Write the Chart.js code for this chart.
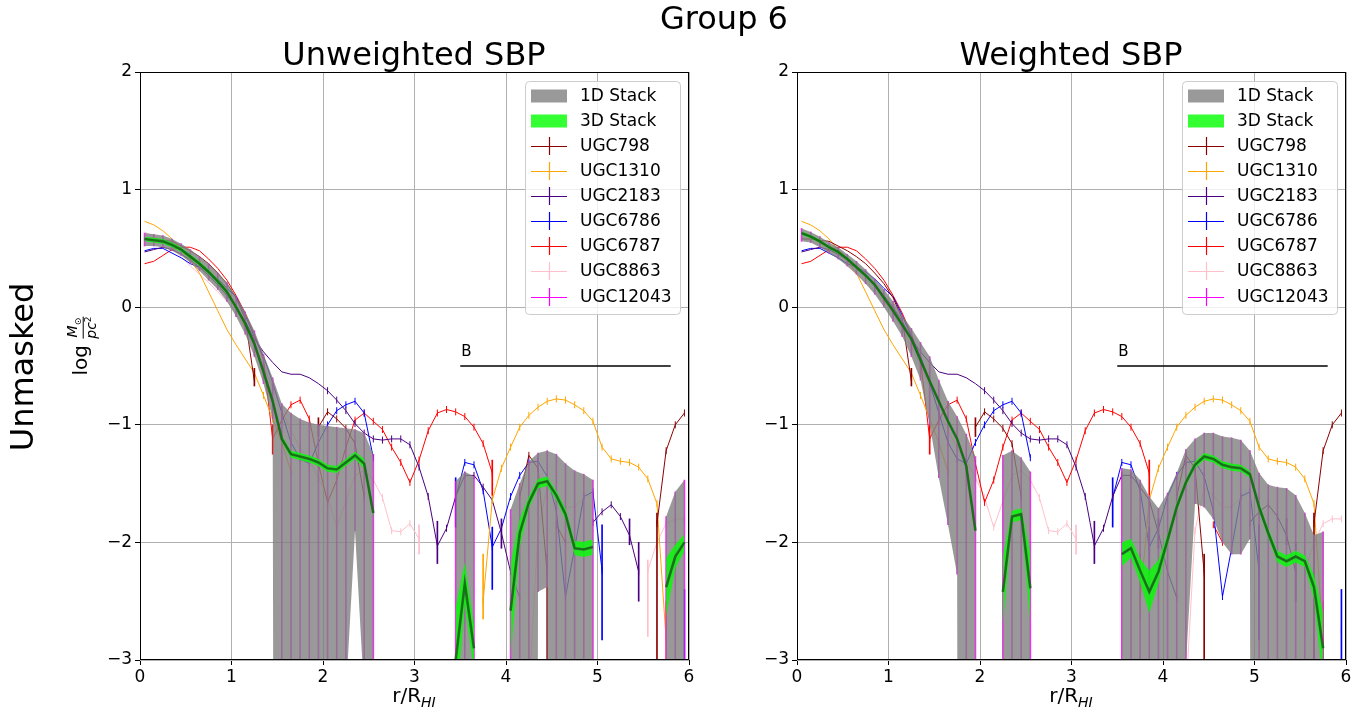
<!DOCTYPE html>
<html>
<head>
<meta charset="utf-8">
<script src="https://cdn.jsdelivr.net/npm/chart.js@4.4.0/dist/chart.umd.min.js"></script>
<style>
body { margin: 0; background: #fff; font-family: "DejaVu Sans", sans-serif; }
#wrap { position: relative; width: 1370px; height: 718px; overflow: hidden; }
canvas { position: absolute; top: 0; }
.t { position: absolute; white-space: nowrap; color: #000; line-height: 1; }
.c { text-align: center; }
.rot { position: absolute; white-space: nowrap; transform: translate(-50%, -50%) rotate(-90deg); }
.frac { display: inline-flex; flex-direction: column; align-items: center; vertical-align: middle; font-size: 14px; line-height: 1.05; }
.frac span:first-child { border-bottom: 1px solid #000; padding: 0 1px; }
</style>
</head>
<body>
<div id="wrap">
  <canvas id="c1" width="700" height="718" style="left:0"></canvas>
  <canvas id="c2" width="670" height="718" style="left:700px"></canvas>

  <div class="t c" style="left:574px;width:300px;top:2px;font-size:32px;">Group 6</div>
  <div class="t c" style="left:264px;width:300px;top:38px;font-size:32px;">Unweighted SBP</div>
  <div class="t c" style="left:921px;width:300px;top:38px;font-size:32px;">Weighted SBP</div>
  <div class="rot" style="left:22px;top:367px;font-size:32px;">Unmasked</div>
  <div class="rot" style="left:82px;top:346px;font-size:20px;">log <span class="frac"><span><i>M</i><sub style="font-size:9px">⊙</sub></span><span><i>pc</i><sup style="font-size:9px">2</sup></span></span></div>
  <div class="t c" style="left:314px;width:200px;top:685px;font-size:20px;">r/R<sub style="font-size:14px"><i>HI</i></sub></div>
  <div class="t c" style="left:971px;width:200px;top:685px;font-size:20px;">r/R<sub style="font-size:14px"><i>HI</i></sub></div>
</div>

<script>
const _ = null;
const D = -40; // lower edge of the band where it has no finite value

// radial bin centres, r/R_HI
const r = [
  0.05, 0.15, 0.25, 0.35, 0.45, 0.55, 0.65, 0.75, 0.85, 0.95,
  1.05, 1.15, 1.25, 1.35, 1.45, 1.55, 1.65, 1.75, 1.85, 1.95,
  2.05, 2.15, 2.25, 2.35, 2.45, 2.55, 2.65, 2.75, 2.85, 2.95,
  3.05, 3.15, 3.25, 3.35, 3.45, 3.55, 3.65, 3.75, 3.85, 3.95,
  4.05, 4.15, 4.25, 4.35, 4.45, 4.55, 4.65, 4.75, 4.85, 4.95,
  5.05, 5.15, 5.25, 5.35, 5.45, 5.55, 5.65, 5.75, 5.85, 5.95];

// individual galaxy profiles (same in both panels)
const ugc798 = [
  0.58, 0.58, 0.57, 0.56, 0.52, 0.48, 0.43, 0.37, 0.29, 0.20,
  0.08, -0.10, -0.63, _, _, _, _, _, _, -1.02,
  -0.89, -0.95, -1.03, -1.16, -1.61, _, _, _, _, _,
  _, _, _, _, _, _, _, _, _, _,
  _, -1.61, -1.26, -1.37, -2.26, _, _, _, _, _,
  _, _, _, _, _, _, -1.84, -1.22, -1.00, -0.90];
const ugc1310 = [
  0.73, 0.70, 0.65, 0.58, 0.49, 0.40, 0.29, 0.13, -0.03, -0.19,
  -0.32, -0.44, -0.56, -0.75, -0.95, -1.15, -1.40, _, _, _,
  _, _, _, _, _, _, _, _, _, _,
  _, _, _, _, _, _, _, -2.50, -1.64, -1.37,
  -1.19, -1.02, -0.92, -0.85, -0.80, -0.78, -0.79, -0.83, -0.88, -0.97,
  -1.19, -1.29, -1.31, -1.32, -1.36, -1.46, -1.67, -2.83, _, _];
const ugc2183 = [
  0.47, 0.49, 0.51, 0.49, 0.45, 0.40, 0.34, 0.27, 0.19, 0.10,
  0.00, -0.12, -0.27, -0.38, -0.47, -0.55, -0.57, -0.57, -0.60, -0.65,
  -0.71, -0.79, -0.88, -0.99, -1.07, -1.12, -1.13, -1.12, -1.12, -1.17,
  -1.36, -1.61, -2.03, -1.88, -1.61, -1.43, -1.43, -1.53, -1.64, -1.92,
  -2.25, -2.47, _, _, _, _, _, _, _, -1.83,
  -1.74, -1.68, -1.78, -1.94, -2.25, _, _, _, _, _];
const ugc6786 = [
  0.48, 0.50, 0.50, 0.46, 0.42, 0.37, 0.34, 0.30, 0.24, 0.16,
  0.09, -0.07, -0.25, -0.42, -0.64, -0.90, -1.15, -1.29, -1.33, -1.15,
  -1.00, -0.88, -0.83, -0.80, -0.90, -1.28, _, _, _, _,
  _, _, _, _, -1.62, -1.32, -1.34, -1.56, -2.04, -1.88,
  -1.61, -1.43, -1.32, -1.31, -1.44, -1.73, -2.46, -2.05, -1.61, -1.57,
  -2.24, _, _, _, _, _, _, _, _, -2.75];
const ugc6787 = [
  0.37, 0.39, 0.44, 0.49, 0.51, 0.51, 0.48, 0.41, 0.33, 0.23,
  0.10, -0.05, -0.23, -0.45, -1.12, -0.96, -0.83, -0.79, -0.95, -1.33,
  -1.66, -1.47, -1.19, -0.96, -0.90, -0.97, -1.04, -1.19, -1.32, -1.49,
  -1.30, -1.05, -0.90, -0.87, -0.89, -0.93, -1.02, -1.16, -1.41, _,
  _, _, _, _, _, -1.85, -2.00, _, _, _,
  _, _, _, _, _, _, _, _, _, _];
const ugc8863 = [
  0.64, 0.60, 0.56, 0.50, 0.43, 0.35, 0.28, 0.21, 0.13, 0.05,
  -0.05, -0.18, -0.33, -0.50, -0.68, -0.88, -1.05, -1.20, -1.30, -1.45,
  -1.62, -1.87, -1.65, -1.43, -1.39, -1.47, -1.62, -1.90, -1.91, -1.84,
  -1.97, _, _, _, _, _, _, _, _, _,
  _, _, -3.30, -1.90, -1.53, -1.60, -1.70, -1.70, -1.62, _,
  _, _, _, _, _, -2.24, -2.00, -1.84, -1.80, -1.80];
const ugc12043 = r.map(() => null); // no valid points in range

const galaxyNames = ['UGC798', 'UGC1310', 'UGC2183', 'UGC6786', 'UGC6787', 'UGC8863', 'UGC12043'];
const galaxyColors = ['darkred', 'orange', 'indigo', 'blue', 'red', 'pink', 'magenta'];
const galaxyData = [ugc798, ugc1310, ugc2183, ugc6786, ugc6787, ugc8863, ugc12043];

// the larger error bars: galaxy, r, low, high
const errBars = [
  ['UGC798', 1.25, -0.67, -0.52], ['UGC798', 1.95, -1.10, -0.94],
  ['UGC798', 4.45, -3.10, -2.10], ['UGC798', 5.65, -3.10, -1.75],
  ['UGC1310', 3.75, -2.65, -2.10], ['UGC1310', 5.75, -3.10, -2.50],
  ['UGC2183', 3.25, -2.18, -1.82], ['UGC2183', 3.95, -2.05, -1.80],
  ['UGC2183', 5.35, -2.02, -1.80], ['UGC2183', 5.45, -2.50, -2.00],
  ['UGC6786', 3.45, -1.87, -1.45], ['UGC6786', 3.85, -2.40, -1.87],
  ['UGC6786', 5.05, -2.83, -1.85], ['UGC6786', 5.95, -3.05, -2.40],
  ['UGC6787', 1.45, -1.25, -1.00], ['UGC6787', 3.85, -1.60, -1.30],
  ['UGC8863', 3.05, -2.10, -1.85], ['UGC8863', 5.55, -2.80, -2.15]];

// unweighted stacks
const stack1dUpL = [
  0.63, 0.62, 0.61, 0.58, 0.54, 0.49, 0.43, 0.37, 0.29, 0.21,
  0.09, -0.04, -0.20, -0.40, -0.60, -0.82, -0.90, -0.95, -0.98, -1.00,
  -1.01, -1.02, -1.03, -1.04, -1.07, -1.25, _, _, _, _,
  _, _, _, _, -1.48, -1.40, -1.44, _, _, _,
  -1.72, -1.50, -1.31, -1.24, -1.22, -1.25, -1.33, -1.39, -1.42, -1.47,
  _, _, _, _, _, _, _, -1.78, -1.57, -1.47];
const stack1dLoL = [
  0.52, 0.52, 0.51, 0.48, 0.44, 0.38, 0.31, 0.23, 0.15, 0.05,
  -0.08, -0.23, -0.42, -0.65, -0.95, D, D, D, D, D,
  D, D, -3.30, -1.90, -3.30, D, _, _, _, _,
  _, _, _, _, D, D, D, _, _, _,
  D, D, D, -2.42, -2.38, D, D, D, D, D,
  _, _, _, _, _, _, _, D, D, D];
const stack3dL = [
  0.58, 0.57, 0.56, 0.53, 0.49, 0.43, 0.37, 0.30, 0.22, 0.13,
  0.00, -0.14, -0.31, -0.55, -0.80, -1.12, -1.25, -1.27, -1.29, -1.32,
  -1.37, -1.38, -1.32, -1.26, -1.33, -1.75, _, _, _, _,
  _, _, _, _, -3.00, -2.35, -2.90, _, _, _,
  -2.58, -1.92, -1.66, -1.50, -1.48, -1.60, -1.76, -2.05, -2.06, -2.04,
  _, _, _, _, _, _, _, -2.38, -2.12, -2.00];
const stack3dErrL = [
  0.02, 0.02, 0.02, 0.02, 0.02, 0.02, 0.02, 0.02, 0.02, 0.02,
  0.02, 0.02, 0.02, 0.025, 0.025, 0.03, 0.03, 0.03, 0.03, 0.03,
  0.03, 0.03, 0.03, 0.03, 0.04, 0.06, _, _, _, _,
  _, _, _, _, 0.45, 0.18, 0.20, _, _, _,
  0.40, 0.12, 0.05, 0.04, 0.04, 0.04, 0.05, 0.06, 0.065, 0.065,
  _, _, _, _, _, _, _, 0.25, 0.10, 0.07];

// weighted stacks
const stack1dUpR = [
  0.67, 0.64, 0.60, 0.55, 0.51, 0.45, 0.39, 0.32, 0.24, 0.15,
  0.05, -0.07, -0.18, -0.30, -0.42, -0.62, -0.80, -0.93, -1.08, -1.27,
  _, _, -1.26, -1.22, -1.28, -1.40, _, _, _, _,
  _, _, _, _, _, -1.37, -1.38, -1.47, -1.61, -1.71,
  -1.58, -1.41, -1.21, -1.12, -1.07, -1.07, -1.10, -1.11, -1.13, -1.22,
  -1.41, -1.51, -1.53, -1.54, -1.60, -1.75, -1.94, -1.91, _, _];
const stack1dLoR = [
  0.56, 0.55, 0.51, 0.46, 0.41, 0.35, 0.28, 0.20, 0.11, 0.00,
  -0.12, -0.25, -0.42, -0.62, -1.00, -1.45, -1.85, -2.27, D, D,
  _, _, D, D, D, D, _, _, _, _,
  _, _, _, _, _, D, D, D, D, D,
  D, D, -3.05, -1.67, -1.70, -1.80, -2.00, -2.10, -2.10, -1.97,
  D, D, D, D, D, D, D, D, _, _];
const stack3dR = [
  0.63, 0.60, 0.56, 0.51, 0.47, 0.41, 0.34, 0.27, 0.19, 0.08,
  -0.03, -0.15, -0.27, -0.45, -0.63, -0.80, -0.97, -1.12, -1.35, -1.90,
  _, _, -2.42, -1.78, -1.76, -2.39, _, _, _, _,
  _, _, _, _, _, -2.10, -2.05, -2.24, -2.42, -2.25,
  -1.98, -1.70, -1.49, -1.34, -1.27, -1.29, -1.34, -1.36, -1.37, -1.42,
  -1.70, -1.92, -2.12, -2.16, -2.12, -2.16, -2.38, -2.90, _, _];
const stack3dErrR = [
  0.015, 0.015, 0.015, 0.015, 0.015, 0.015, 0.015, 0.015, 0.015, 0.015,
  0.015, 0.015, 0.015, 0.02, 0.02, 0.02, 0.02, 0.02, 0.025, 0.04,
  _, _, 0.30, 0.05, 0.05, 0.30, _, _, _, _,
  _, _, _, _, _, 0.10, 0.08, 0.10, 0.18, 0.10,
  0.05, 0.04, 0.03, 0.03, 0.03, 0.03, 0.03, 0.03, 0.03, 0.03,
  0.04, 0.04, 0.05, 0.05, 0.05, 0.05, 0.10, 0.30, _, _];

// the "B" range marker
const bRange = [3.5, 5.8];
const bLevel = -0.5;

const xTicks = [0, 1, 2, 3, 4, 5, 6];
const yTicks = [-3, -2, -1, 0, 1, 2];

const GRAY = 'rgba(128,128,128,0.8)';
const LIME = 'rgba(0,255,0,0.8)';

Chart.defaults.font.family = "'DejaVu Sans', sans-serif";
Chart.defaults.font.size = 17;
Chart.defaults.color = '#000';

const xy = arr => r.map((x, i) => ({ x: x, y: arr[i] }));

const framePlugin = {
  id: 'frame',
  afterDatasetsDraw(chart) {
    const a = chart.chartArea, ctx = chart.ctx;
    const xs = chart.scales.x, ys = chart.scales.y;
    ctx.save();
    ctx.fillStyle = '#000';
    ctx.font = "15px 'DejaVu Sans'";
    ctx.textBaseline = 'alphabetic';
    ctx.fillText('B', xs.getPixelForValue(bRange[0]) + 1, ys.getPixelForValue(bLevel) - 10);
    ctx.strokeStyle = '#000';
    ctx.lineWidth = 1;
    ctx.strokeRect(Math.round(a.left) + 0.5, Math.round(a.top) + 0.5,
                   Math.round(a.right - a.left) - 1, Math.round(a.bottom - a.top) - 1);
    ctx.restore();
  }
};

const legendPlugin = {
  id: 'mplLegend',
  afterDraw(chart) {
    const a = chart.chartArea, ctx = chart.ctx;
    const left = a.right - 164, top = a.top + 9, w = 155, h = 233;
    ctx.save();
    ctx.beginPath();
    ctx.roundRect(left + 0.5, top + 0.5, w, h, 4);
    ctx.fillStyle = 'rgba(255,255,255,0.8)';
    ctx.fill();
    ctx.strokeStyle = '#cccccc';
    ctx.lineWidth = 1;
    ctx.stroke();
    const items = [{ label: '1D Stack', patch: GRAY }, { label: '3D Stack', patch: LIME }]
      .concat(galaxyNames.map((n, i) => ({ label: n, color: galaxyColors[i] })));
    ctx.font = "17px 'DejaVu Sans'";
    ctx.textBaseline = 'middle';
    items.forEach((it, i) => {
      const y = Math.round(top + 14.7 + i * 25.1);
      const x0 = left + 6, x1 = left + 42;
      if (it.patch) {
        ctx.fillStyle = it.patch;
        ctx.fillRect(x0, y - 6.5, x1 - x0, 13);
      } else {
        ctx.strokeStyle = it.color;
        ctx.lineWidth = 1.2;
        ctx.beginPath();
        ctx.moveTo(x0, y + 0.5); ctx.lineTo(x1, y + 0.5);
        const xm = Math.round((x0 + x1) / 2) + 0.5;
        ctx.moveTo(xm, y - 9); ctx.lineTo(xm, y + 9);
        ctx.stroke();
      }
      ctx.fillStyle = '#000';
      ctx.fillText(it.label, left + 55, y + 1);
    });
    ctx.restore();
  }
};

function buildPanel(id, padL, padR, up, lo, s3, s3e) {
  const hi3 = s3.map((v, i) => v == null ? null : v + s3e[i]);
  const lo3 = s3.map((v, i) => v == null ? null : v - s3e[i]);
  const base = { type: 'line', pointRadius: 0, tension: 0, spanGaps: false, fill: false };
  const ds = [];

  ds.push(Object.assign({}, base, {
    data: [{ x: bRange[0], y: bLevel }, { x: bRange[1], y: bLevel }],
    borderColor: '#000', borderWidth: 1.5, order: 0 }));
  ds.push(Object.assign({}, base, { data: xy(s3), borderColor: 'rgb(0,128,0)', borderWidth: 1.3, order: 1 }));
  ds.push(Object.assign({}, base, { data: xy(s3), borderColor: 'rgba(70,70,70,0.85)', borderWidth: 2.6, order: 2 }));

  let k = ds.length;
  ds.push(Object.assign({}, base, { data: xy(hi3), borderWidth: 0, borderColor: 'transparent',
    fill: { target: k + 1 }, backgroundColor: LIME, order: 3 }));
  ds.push(Object.assign({}, base, { data: xy(lo3), borderWidth: 0, borderColor: 'transparent', order: 3.1 }));

  k = ds.length;
  ds.push(Object.assign({}, base, { data: xy(up), borderWidth: 0, borderColor: 'transparent',
    fill: { target: k + 1 }, backgroundColor: GRAY, order: 5 }));
  ds.push(Object.assign({}, base, { data: xy(lo), borderWidth: 0, borderColor: 'transparent', order: 5.1 }));

  // magenta error bars lying under the 1D band
  const bars = [];
  r.forEach((x, i) => {
    if (up[i] != null) bars.push({ x: x, y: [Math.max(lo[i], -3.05), up[i]] });
  });
  ds.push({ type: 'bar', data: bars, backgroundColor: 'rgba(255,0,255,0.85)', barThickness: 1,
    grouped: false, borderWidth: 0, order: 6 });

  galaxyNames.forEach((n, g) => {
    ds.push(Object.assign({}, base, {
      label: n, data: xy(galaxyData[g]), borderColor: galaxyColors[g], borderWidth: 1,
      pointStyle: 'line', rotation: 90, pointBorderColor: galaxyColors[g], pointBorderWidth: 1,
      pointRadius: c => (c.raw && c.raw.y != null && c.raw.y < -0.7) ? 3.5 : 0,
      order: 7 + g * 0.01 }));
    const eb = errBars.filter(e => e[0] === n).map(e => ({ x: e[1], y: [e[2], e[3]] }));
    if (eb.length) {
      ds.push({ type: 'bar', data: eb, backgroundColor: galaxyColors[g], barThickness: 1,
        grouped: false, borderWidth: 0, order: 7 + g * 0.01 });
    }
  });

  return new Chart(document.getElementById(id), {
    type: 'line',
    data: { datasets: ds },
    options: {
      responsive: false, animation: false, devicePixelRatio: 1, events: [],
      layout: { padding: { left: padL, right: padR, top: 72, bottom: 0 } },
      plugins: {
        legend: { display: false }, tooltip: { enabled: false }, title: { display: false },
        filler: { drawTime: 'beforeDatasetDraw', propagate: false }
      },
      scales: {
        x: {
          type: 'linear', min: 0, max: 6, offset: false,
          afterFit: s => { s.height = 58; },
          afterBuildTicks: s => { s.ticks = xTicks.map(v => ({ value: v })); },
          ticks: { padding: 2, maxRotation: 0, color: '#000', callback: v => String(v) },
          grid: { color: '#b0b0b0', lineWidth: 1, offset: false, tickLength: 5, tickColor: '#000' },
          border: { display: false }
        },
        y: {
          type: 'linear', min: -3, max: 2, beginAtZero: false,
          afterFit: s => { s.width = 40; },
          afterBuildTicks: s => { s.ticks = yTicks.map(v => ({ value: v })); },
          ticks: { padding: 3, color: '#000', callback: v => v < 0 ? '\u2212' + Math.abs(v) : String(v) },
          grid: { color: '#b0b0b0', lineWidth: 1, tickLength: 5, tickColor: '#000' },
          border: { display: false }
        }
      }
    },
    plugins: [framePlugin, legendPlugin]
  });
}

buildPanel('c1', 100, 11, stack1dUpL, stack1dLoL, stack3dL, stack3dErrL);
buildPanel('c2', 57, 24, stack1dUpR, stack1dLoR, stack3dR, stack3dErrR);
</script>
</body>
</html>
